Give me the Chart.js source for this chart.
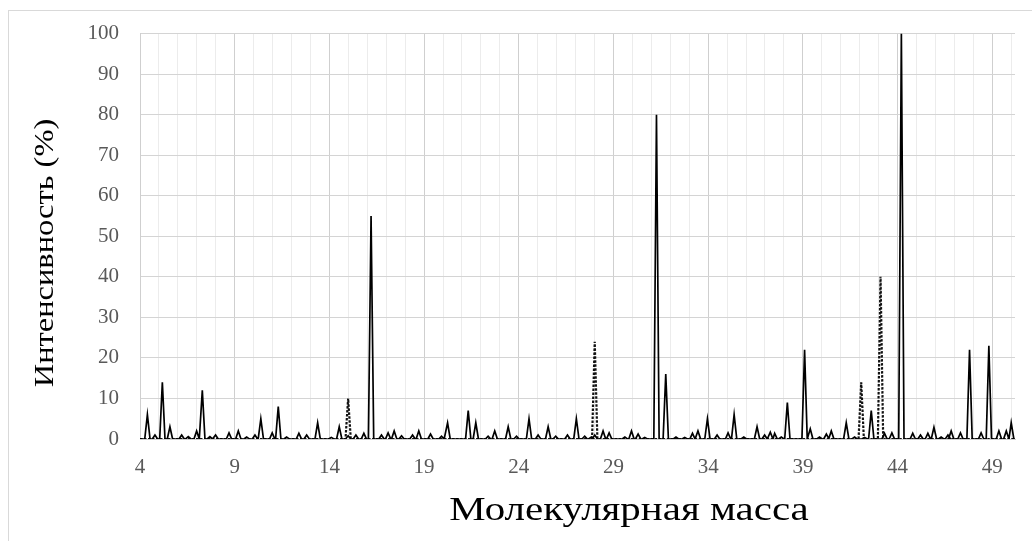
<!DOCTYPE html>
<html>
<head>
<meta charset="utf-8">
<script src="https://cdn.jsdelivr.net/npm/chart.js@4.4.1/dist/chart.umd.min.js"></script>
<style>
  html, body { margin: 0; padding: 0; background: #ffffff; }
  #wrap { position: relative; width: 1032px; height: 541px; }
  #frame { position: absolute; left: 8px; top: 10px; width: 1040px; height: 540px; border: 1px solid #d9d9d9; box-sizing: border-box; pointer-events: none; }
  canvas { position: absolute; left: 0; top: 0; }
</style>
</head>
<body>
<div id="wrap">
  <div id="frame"></div>
  <canvas id="c" width="1032" height="541"></canvas>
</div>
<script>
// ---- data ----
const xTickLabels = ['4', '9', '14', '19', '24', '29', '34', '39', '44', '49'];
const yTickValues = [0, 10, 20, 30, 40, 50, 60, 70, 80, 90, 100];
const xTitle = 'Молекулярная масса';
const yTitle = 'Интенсивность (%)';

// solid spectrum: peak positions (mass) and intensities (%)
const solidMass = [
  4.39, 4.79, 5.18, 5.58, 6.20, 6.55, 6.99, 7.29, 7.69, 7.99,
  8.70, 9.19, 9.63, 10.07, 10.38, 10.98, 11.30, 11.74, 12.39, 12.80,
  13.38, 14.10, 14.52, 14.99, 15.40, 15.82, 16.20, 16.75, 17.10, 17.42,
  17.81, 18.39, 18.72, 19.34, 19.92, 20.24, 21.33, 21.73, 22.38, 22.73,
  23.44, 23.88, 24.54, 25.02, 25.55, 25.95, 26.57, 27.04, 27.48, 27.83,
  28.01, 28.45, 28.77, 29.60, 29.95, 30.30, 30.65, 31.27, 31.76, 32.30,
  32.76, 33.17, 33.46, 33.96, 34.47, 35.05, 35.37, 35.88, 36.58, 36.98,
  37.28, 37.51, 37.86, 38.18, 39.09, 39.39, 39.88, 40.24, 40.50, 41.29,
  41.73, 42.26, 42.61, 43.31, 43.70, 44.20, 44.80, 45.21, 45.60, 45.92,
  46.30, 46.66, 46.83, 47.32, 47.80, 48.41, 48.82, 49.35, 49.74, 50.00
];
const solidIntensity = [
  6, 1, 14, 3, 1, 0.6, 2, 12, 0.6, 1,
  1.5, 2, 0.5, 1, 5, 1.5, 8, 0.5, 1.4, 1,
  4, 0.4, 3, 0.8, 1, 1.4, 55, 1, 1.5, 2,
  0.8, 1, 2, 1.2, 0.7, 4, 7, 4, 0.7, 2,
  3, 0.7, 5, 1, 3, 0.7, 1, 5, 0.7, 0.5,
  1, 2, 1.5, 0.5, 2, 1.2, 0.4, 80, 16, 0.5,
  0.4, 1.4, 2, 5, 1, 1.5, 6, 0.5, 3, 1,
  1.7, 1.4, 0.5, 9, 22, 2.5, 0.5, 1.2, 2, 4,
  0.5, 0.4, 7, 1.4, 1.5, 100, 1.4, 1, 1.4, 2.9,
  0.5, 1, 2, 1.5, 22, 1.5, 23, 2, 2, 4
];

// dotted spectrum: peak positions and intensities
const dottedMass = [14.99, 28.01, 42.08, 43.10];
const dottedIntensity = [10, 24, 14, 40];

const xMin = 4, xMax = 50.2;
const halfWidth = 0.14;

function buildLine(mass, inten) {
  const pts = [{ x: xMin, y: 0 }];
  for (let i = 0; i < mass.length; i++) {
    pts.push({ x: mass[i] - halfWidth, y: 0 });
    pts.push({ x: mass[i], y: inten[i] });
    pts.push({ x: mass[i] + halfWidth, y: 0 });
  }
  pts.push({ x: xMax, y: 0 });
  return pts;
}

const serif = "'Liberation Serif', 'DejaVu Serif', serif";
const tickColor = '#595959';

// draws the two axis titles (real canvas text), slightly widened like the reference font
const axisTitles = {
  id: 'axisTitles',
  afterDraw(chart) {
    const ctx = chart.ctx;
    ctx.save();
    ctx.fillStyle = '#000000';
    ctx.textAlign = 'center';
    ctx.textBaseline = 'middle';
    // x title
    ctx.save();
    ctx.translate(629, 511);
    ctx.scale(1.24, 1);
    ctx.font = '33px ' + serif;
    ctx.fillText(xTitle, 0, 0);
    ctx.restore();
    // y title
    ctx.save();
    ctx.translate(46, 253);
    ctx.rotate(-Math.PI / 2);
    ctx.scale(1.16, 1);
    ctx.font = '28px ' + serif;
    ctx.fillText(yTitle, 0, 0);
    ctx.restore();
    ctx.restore();
  }
};

new Chart(document.getElementById('c'), {
  type: 'line',
  data: {
    datasets: [
      {
        label: 'dotted',
        data: buildLine(dottedMass, dottedIntensity),
        borderColor: '#111111',
        borderWidth: 2.2,
        borderDash: [2.5, 1.5],
        pointRadius: 0,
        tension: 0,
        fill: false,
        order: 2
      },
      {
        label: 'solid',
        data: buildLine(solidMass, solidIntensity),
        borderColor: '#000000',
        borderWidth: 1.7,
        pointRadius: 0,
        tension: 0,
        fill: false,
        order: 1
      }
    ]
  },
  plugins: [axisTitles],
  options: {
    responsive: false,
    animation: false,
    layout: { padding: { left: 0, right: 17, top: 32, bottom: 0 } },
    plugins: { legend: { display: false }, tooltip: { enabled: false } },
    scales: {
      x: {
        type: 'linear',
        min: xMin,
        max: xMax,
        afterBuildTicks: (s) => {
          const t = [];
          for (let v = 4; v <= 50; v++) t.push({ value: v });
          s.ticks = t;
        },
        afterFit: (s) => { s.height = 102; },
        ticks: {
          autoSkip: false,
          maxRotation: 0,
          padding: 16,
          color: tickColor,
          font: { family: serif, size: 21, lineHeight: 1.2 },
          callback: (v) => {
            const lab = String(v);
            return xTickLabels.includes(lab) ? lab : '';
          }
        },
        grid: {
          drawTicks: false,
          lineWidth: 1,
          color: (ctx) => {
            const v = ctx.tick ? ctx.tick.value : 0;
            return xTickLabels.includes(String(v)) ? '#cfcfcf' : '#ececec';
          }
        },
        border: { color: '#cfcfcf', width: 1 },
        title: { display: false }
      },
      y: {
        min: 0,
        max: 100,
        afterBuildTicks: (s) => { s.ticks = yTickValues.map(v => ({ value: v })); },
        afterFit: (s) => { s.width = 140; },
        ticks: {
          padding: 21,
          color: tickColor,
          font: { family: serif, size: 21 }
        },
        grid: { drawTicks: false, lineWidth: 1, color: '#d4d4d4' },
        border: { color: '#cfcfcf', width: 1 },
        title: { display: false }
      }
    }
  }
});
</script>
</body>
</html>
